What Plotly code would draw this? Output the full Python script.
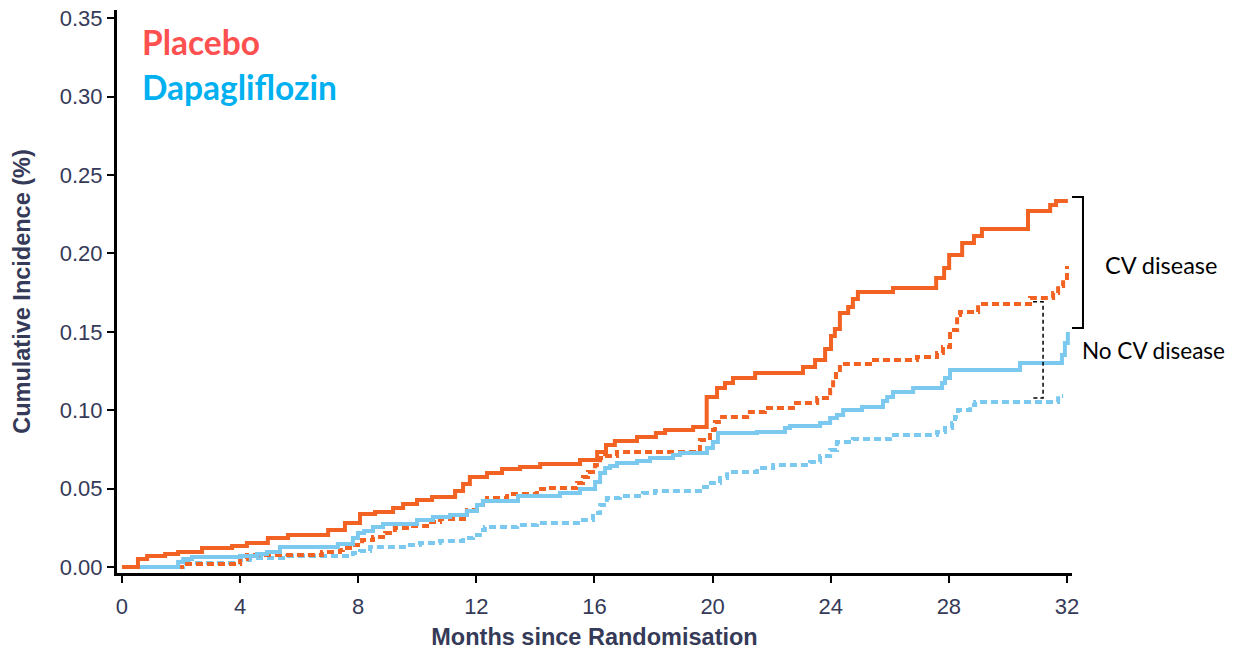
import plotly.graph_objects as go

# ---- data (months since randomisation, cumulative incidence) ----
plac_cv_x = [0, 0.54, 0.85, 1.46, 1.90, 2.71, 3.73, 4.23, 4.94, 5.62, 6.98, 7.55, 8.06, 8.57, 9.18,
             9.52, 9.99, 10.50, 11.28, 11.55, 11.78, 12.36, 12.87, 13.48, 14.16, 15.51, 16.09, 16.39,
             16.69, 17.44, 18.08, 18.39, 19.34, 19.80, 20.15, 20.42, 20.69, 21.44, 23.06, 23.47,
             23.81, 24.01, 24.14, 24.31, 24.59, 24.75, 24.92, 26.11, 27.57, 27.84, 28.01, 28.45,
             28.85, 29.12, 30.68, 31.43, 31.63, 32.03]
plac_cv_y = [0, 0.0051, 0.0070, 0.0083, 0.0096, 0.0121, 0.0134, 0.0153, 0.0185, 0.0204, 0.0236,
             0.0281, 0.0338, 0.0351, 0.0376, 0.0402, 0.0427, 0.0446, 0.0485, 0.0529, 0.0574, 0.0599,
             0.0625, 0.0638, 0.0657, 0.0682, 0.0733, 0.0778, 0.0804, 0.0829, 0.0855, 0.0874, 0.0893,
             0.1084, 0.1142, 0.1173, 0.1205, 0.1237, 0.1276, 0.1320, 0.1390, 0.1473, 0.1518, 0.1620,
             0.1658, 0.1709, 0.1754, 0.1779, 0.1843, 0.1907, 0.1990, 0.2066, 0.2111, 0.2156, 0.2270,
             0.2309, 0.2334, 0.2334]

plac_nocv_x = [0, 2.13, 4.00, 4.23, 6.77, 7.38, 7.48, 7.89, 8.13, 8.50, 8.91, 9.24, 9.75, 10.33,
               10.77, 11.68, 12.02, 12.36, 13.04, 14.05, 14.39, 15.41, 15.61, 15.78, 16.02, 16.19,
               16.36, 16.76, 19.57, 19.91, 20.08, 20.32, 21.17, 21.77, 22.72, 23.54, 23.98, 24.08,
               24.18, 24.31, 25.33, 26.92, 27.60, 27.80, 28.04, 28.28, 28.38, 28.99, 30.75, 31.53,
               31.70, 31.87, 32.00]
plac_nocv_y = [0, 0.0019, 0.0051, 0.0077, 0.0096, 0.0108, 0.0121, 0.0140, 0.0172, 0.0191, 0.0217,
               0.0249, 0.0261, 0.0287, 0.0306, 0.0364, 0.0395, 0.0440, 0.0466, 0.0497, 0.0504,
               0.0536, 0.0574, 0.0606, 0.0651, 0.0695, 0.0708, 0.0733, 0.0810, 0.0874, 0.0925,
               0.0957, 0.0989, 0.1014, 0.1046, 0.1078, 0.1129, 0.1212, 0.1256, 0.1295, 0.1320,
               0.1339, 0.1365, 0.1403, 0.1511, 0.1607, 0.1626, 0.1677, 0.1716, 0.1747, 0.1792,
               0.1830, 0.1920]

dapa_cv_x = [0, 1.90, 2.07, 2.37, 4.00, 4.57, 4.91, 5.35, 7.31, 7.82, 7.99, 8.20, 8.50, 8.84, 9.99,
             10.53, 11.11, 11.68, 12.02, 12.22, 13.41, 14.83, 15.51, 16.02, 16.19, 16.36, 16.53,
             16.76, 17.44, 17.88, 18.66, 18.90, 19.81, 20.01, 20.18, 21.50, 22.45, 22.62, 23.64,
             23.98, 24.21, 24.42, 25.06, 25.77, 25.91, 26.11, 26.79, 27.77, 27.87, 28.04, 30.41,
             31.83, 31.93, 32.03]
dapa_cv_y = [0, 0.0032, 0.0051, 0.0064, 0.0070, 0.0083, 0.0096, 0.0128, 0.0147, 0.0185, 0.0217,
             0.0230, 0.0255, 0.0274, 0.0300, 0.0319, 0.0332, 0.0357, 0.0395, 0.0421, 0.0453, 0.0472,
             0.0497, 0.0542, 0.0599, 0.0631, 0.0644, 0.0663, 0.0676, 0.0695, 0.0714, 0.0727, 0.0759,
             0.0797, 0.0855, 0.0861, 0.0886, 0.0899, 0.0918, 0.0950, 0.0969, 0.1001, 0.1020, 0.1059,
             0.1084, 0.1116, 0.1142, 0.1173, 0.1205, 0.1256, 0.1301, 0.1352, 0.1429, 0.1499]

dapa_nocv_x = [0, 2.07, 4.00, 4.33, 5.59, 7.82, 8.06, 8.40, 9.75, 10.09, 10.77, 11.55, 11.89, 12.12,
               12.29, 13.38, 14.05, 15.61, 15.95, 16.19, 16.42, 16.86, 17.64, 18.05, 19.57, 19.81,
               20.25, 20.49, 21.50, 22.05, 23.30, 23.64, 23.98, 24.21, 24.75, 26.01, 27.60, 27.87,
               28.11, 28.21, 28.31, 28.72, 28.89, 31.70, 31.87]
dapa_nocv_y = [0, 0.0026, 0.0045, 0.0057, 0.0070, 0.0089, 0.0102, 0.0128, 0.0140, 0.0153, 0.0166,
               0.0185, 0.0204, 0.0236, 0.0255, 0.0268, 0.0281, 0.0300, 0.0344, 0.0395, 0.0440,
               0.0453, 0.0472, 0.0485, 0.0510, 0.0536, 0.0568, 0.0606, 0.0631, 0.0651, 0.0670,
               0.0708, 0.0746, 0.0797, 0.0816, 0.0842, 0.0861, 0.0886, 0.0918, 0.0957, 0.1001,
               0.1033, 0.1052, 0.1091, 0.1091]

x_ticks = [0, 4, 8, 12, 16, 20, 24, 28, 32]
y_ticks = [0.00, 0.05, 0.10, 0.15, 0.20, 0.25, 0.30, 0.35]

ORANGE = "#F26223"
BLUE = "#7CC9EF"
AXIS_TXT = "#353a58"

fig = go.Figure()
series = [
    (dapa_nocv_x, dapa_nocv_y, BLUE, "7px,4px", "Dapagliflozin – no CV disease"),
    (plac_nocv_x, plac_nocv_y, ORANGE, "7px,4px", "Placebo – no CV disease"),
    (dapa_cv_x, dapa_cv_y, BLUE, "solid", "Dapagliflozin – CV disease"),
    (plac_cv_x, plac_cv_y, ORANGE, "solid", "Placebo – CV disease"),
]
for xs, ys, col, dash, name in series:
    fig.add_trace(go.Scatter(x=xs, y=ys, mode="lines", name=name,
                             line=dict(color=col, width=4, dash=dash, shape="hv"),
                             showlegend=False))

fig.update_layout(
    width=1235, height=650,
    margin=dict(l=117, r=163, t=10, b=77, autoexpand=False),
    plot_bgcolor="white", paper_bgcolor="white",
    font=dict(family="Liberation Sans, Arial, sans-serif", color=AXIS_TXT),
)
fig.update_xaxes(
    automargin=False,
    range=[-0.169, 32.17], tickvals=x_ticks, ticktext=[str(v) for v in x_ticks],
    showgrid=False, zeroline=False, showline=True, linecolor="black", linewidth=3,
    ticks="outside", ticklen=7, tickwidth=2, tickcolor="black", ticklabelstandoff=5,
    tickfont=dict(size=22, color=AXIS_TXT), ticklabeloverflow="allow",
    title=dict(text="<b>Months since Randomisation</b>", font=dict(size=23.5, color=AXIS_TXT), standoff=13),
)
fig.update_yaxes(
    automargin=False,
    range=[-0.0038, 0.3552], tickvals=y_ticks, ticktext=[f"{v:.2f}" for v in y_ticks],
    showgrid=False, zeroline=False, showline=True, linecolor="black", linewidth=3,
    ticks="outside", ticklen=7, tickwidth=2, tickcolor="black",
    tickfont=dict(size=22, color=AXIS_TXT), ticklabeloverflow="allow",
    title=dict(text="<b>Cumulative Incidence (%)</b>", font=dict(size=23.5, color=AXIS_TXT), standoff=23),
)

# legend-like labels
fig.add_annotation(x=0.024, y=0.943, xref="paper", yref="paper", xanchor="left", yanchor="middle",
                   text="<b>Placebo</b>", showarrow=False,
                   font=dict(family="Lato, Open Sans, sans-serif", size=33.5, color="#FF5050"))
fig.add_annotation(x=0.024, y=0.863, xref="paper", yref="paper", xanchor="left", yanchor="middle",
                   text="<b>Dapagliflozin</b>", showarrow=False,
                   font=dict(family="Lato, Open Sans, sans-serif", size=33.5, color="#00B0F0"))

# group labels
fig.add_annotation(x=1.0325, y=0.547, xref="paper", yref="paper", xanchor="left", yanchor="middle",
                   text="CV disease", showarrow=False,
                   font=dict(family="Lato, Open Sans, sans-serif", size=23.5, color="black"))
fig.add_annotation(x=1.008, y=0.396, xref="paper", yref="paper", xanchor="left", yanchor="middle",
                   text="No CV disease", showarrow=False,
                   font=dict(family="Lato, Open Sans, sans-serif", size=22.5, color="black"))

# brackets
fig.add_shape(type="path", xref="paper", yref="paper",
              path="M 1.0,0.668 L 1.0115,0.668 L 1.0115,0.435 L 1.0,0.435",
              line=dict(color="black", width=2))
fig.add_shape(type="path", xref="x", yref="y",
              path="M 30.85,0.1692 L 31.19,0.1692 L 31.19,0.1078 L 30.85,0.1078",
              line=dict(color="black", width=1.5, dash="4px,3px"))

# remove the default 8px body margin so the figure fills the window exactly
fig.write_html("out.html", config={"displayModeBar": False},
               post_script="document.body.style.margin='0';")
